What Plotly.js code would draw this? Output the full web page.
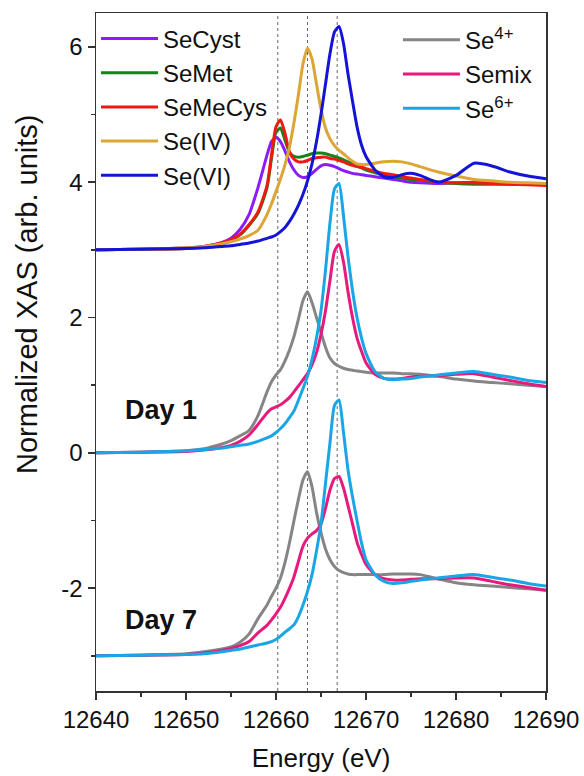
<!DOCTYPE html>
<html>
<head>
<meta charset="utf-8">
<script src="https://cdn.plot.ly/plotly-3.0.1.min.js"></script>
<style>
  html, body { margin: 0; padding: 0; background: #ffffff; }
  #chart { width: 584px; height: 776px; }
</style>
</head>
<body>
<div id="chart"></div>
<script>
// Energy grid (eV)
const energy = [12640, 12645, 12650, 12652, 12654, 12655, 12656, 12657, 12658, 12659,
  12659.5, 12660, 12660.5, 12661, 12661.5, 12662, 12662.5, 12663, 12663.5, 12664,
  12664.5, 12665, 12665.5, 12666, 12666.5, 12667, 12667.5, 12668, 12668.5, 12669,
  12669.5, 12670, 12671, 12672, 12673, 12674, 12675, 12676, 12678, 12680,
  12682, 12684, 12686, 12688, 12690];

// Reference standards (plotted, offset group)
const seCyst = [3.00, 3.01, 3.03, 3.05, 3.11, 3.17, 3.30, 3.52, 3.92, 4.40,
  4.60, 4.66, 4.60, 4.46, 4.30, 4.18, 4.10, 4.07, 4.08, 4.13,
  4.19, 4.24, 4.26, 4.25, 4.23, 4.20, 4.17, 4.15, 4.13, 4.12,
  4.11, 4.10, 4.08, 4.06, 4.04, 4.02, 4.00, 3.99, 3.98, 3.99,
  4.00, 3.99, 3.98, 3.97, 3.96];
const seMet = [3.00, 3.01, 3.02, 3.04, 3.09, 3.14, 3.22, 3.36, 3.54, 3.92,
  4.35, 4.74, 4.80, 4.62, 4.44, 4.38, 4.37, 4.38, 4.40, 4.42,
  4.43, 4.43, 4.42, 4.40, 4.38, 4.36, 4.33, 4.30, 4.27, 4.24,
  4.21, 4.18, 4.14, 4.10, 4.08, 4.06, 4.04, 4.03, 4.00, 3.98,
  3.97, 3.97, 3.97, 3.97, 3.97];
const seMeCys = [3.00, 3.01, 3.02, 3.05, 3.10, 3.15, 3.23, 3.37, 3.56, 3.95,
  4.40, 4.82, 4.92, 4.72, 4.44, 4.34, 4.30, 4.30, 4.32, 4.35,
  4.36, 4.37, 4.37, 4.35, 4.34, 4.32, 4.30, 4.27, 4.25, 4.23,
  4.22, 4.20, 4.16, 4.13, 4.11, 4.08, 4.06, 4.04, 4.00, 3.99,
  3.99, 3.98, 3.97, 3.96, 3.95];
const seIV = [3.00, 3.01, 3.03, 3.05, 3.09, 3.12, 3.16, 3.21, 3.29, 3.52,
  3.68, 3.86, 4.05, 4.26, 4.52, 4.88, 5.30, 5.75, 5.98, 5.82,
  5.45, 5.08, 4.80, 4.64, 4.54, 4.47, 4.42, 4.36, 4.31, 4.27,
  4.26, 4.26, 4.28, 4.30, 4.31, 4.30, 4.27, 4.23, 4.15, 4.09,
  4.04, 4.02, 4.00, 3.99, 3.98];
const seVI = [3.00, 3.01, 3.02, 3.03, 3.05, 3.06, 3.08, 3.10, 3.13, 3.17,
  3.19, 3.22, 3.27, 3.33, 3.42, 3.53, 3.66, 3.82, 4.02, 4.27,
  4.60, 5.00, 5.45, 5.90, 6.22, 6.30, 6.05, 5.60, 5.20, 4.82,
  4.55, 4.38, 4.18, 4.08, 4.07, 4.11, 4.13, 4.10, 4.00, 4.10,
  4.28, 4.24, 4.15, 4.09, 4.05];

// Day 1 samples
const d1Se4 = [0.00, 0.01, 0.03, 0.06, 0.13, 0.18, 0.25, 0.33, 0.55, 0.90,
  1.05, 1.15, 1.23, 1.36, 1.52, 1.72, 1.98, 2.25, 2.38, 2.22,
  2.00, 1.78, 1.56, 1.40, 1.32, 1.28, 1.25, 1.23, 1.22, 1.21,
  1.20, 1.19, 1.18, 1.18, 1.18, 1.17, 1.17, 1.16, 1.13, 1.09,
  1.06, 1.04, 1.02, 1.00, 0.98];
const d1Mix = [0.00, 0.01, 0.02, 0.04, 0.08, 0.11, 0.17, 0.26, 0.42, 0.59,
  0.65, 0.68, 0.71, 0.76, 0.82, 0.90, 0.99, 1.08, 1.17, 1.30,
  1.48, 1.75, 2.10, 2.55, 2.98, 3.08, 2.82, 2.38, 2.00, 1.70,
  1.50, 1.33, 1.16, 1.10, 1.09, 1.10, 1.12, 1.13, 1.14, 1.16,
  1.17, 1.12, 1.07, 1.02, 0.98];
const d1Se6 = [0.00, 0.01, 0.03, 0.05, 0.07, 0.09, 0.11, 0.13, 0.17, 0.22,
  0.25, 0.30, 0.36, 0.43, 0.52, 0.62, 0.78, 0.95, 1.13, 1.38,
  1.70, 2.10, 2.70, 3.40, 3.90, 3.98, 3.50, 2.90, 2.40, 2.00,
  1.70, 1.47, 1.20, 1.10, 1.08, 1.09, 1.10, 1.12, 1.15, 1.18,
  1.20, 1.16, 1.12, 1.07, 1.04];

// Day 7 samples
const d7Se4 = [-3.00, -2.99, -2.97, -2.94, -2.90, -2.87, -2.80, -2.68, -2.45, -2.25,
  -2.12, -2.00, -1.85, -1.62, -1.33, -1.00, -0.68, -0.40, -0.28, -0.50,
  -0.88, -1.18, -1.42, -1.58, -1.68, -1.74, -1.77, -1.79, -1.80, -1.80,
  -1.80, -1.80, -1.80, -1.80, -1.79, -1.79, -1.79, -1.80, -1.86, -1.92,
  -1.95, -1.97, -1.99, -2.01, -2.03];
const d7Mix = [-3.00, -2.99, -2.98, -2.96, -2.92, -2.89, -2.85, -2.79, -2.66, -2.55,
  -2.47, -2.38, -2.28, -2.15, -2.00, -1.83, -1.60, -1.38, -1.26, -1.20,
  -1.15, -1.05, -0.82, -0.55, -0.38, -0.35, -0.52, -0.78, -1.05, -1.32,
  -1.50, -1.65, -1.80, -1.86, -1.88, -1.88, -1.87, -1.86, -1.86, -1.85,
  -1.85, -1.90, -1.95, -1.99, -2.03];
const d7Se6 = [-3.00, -2.99, -2.98, -2.97, -2.94, -2.92, -2.90, -2.87, -2.84, -2.81,
  -2.79, -2.76, -2.71, -2.65, -2.60, -2.54, -2.42, -2.25, -2.05, -1.80,
  -1.45, -1.05, -0.45, 0.15, 0.70, 0.78, 0.30, -0.25, -0.65, -1.00,
  -1.33, -1.58, -1.80, -1.90, -1.93, -1.92, -1.90, -1.88, -1.85, -1.82,
  -1.80, -1.84, -1.88, -1.93, -1.97];

// Reference energies (dotted guides)
const refEnergies = [12660.2, 12663.5, 12666.8];

// Tick labels
const yTickVals = [-2, 0, 2, 4, 6];
const yTickText = ['-2', '0', '2', '4', '6'];
const xTickVals = [12640, 12650, 12660, 12670, 12680, 12690];
const xTickText = ['12640', '12650', '12660', '12670', '12680', '12690'];

// Titles and panel labels
const xTitle = 'Energy (eV)';
const yTitle = 'Normalized XAS (arb. units)';
const dayLabels = ['Day 1', 'Day 7'];
const dayLabelX = [12647.2, 12647.2];
const dayLabelY = [0.63, -2.47];

const FONT = 'Liberation Sans, Arial, sans-serif';

function tr(y, name, color, legend, show) {
  return {
    x: energy, y: y, name: name, type: 'scatter', mode: 'lines',
    line: {color: color, width: 3, shape: 'spline', smoothing: 0.6},
    legend: legend, showlegend: show, hoverinfo: 'skip'
  };
}

const data = [
  tr(seCyst, 'SeCyst', '#8a1cf5', 'legend', true),
  tr(seMet, 'SeMet', '#12851a', 'legend', true),
  tr(seMeCys, 'SeMeCys', '#ee1a12', 'legend', true),
  tr(seIV, 'Se(IV)', '#dca535', 'legend', true),
  tr(seVI, 'Se(VI)', '#1414d8', 'legend', true),
  tr(d1Se4, 'Se<sup>4+</sup>', '#858585', 'legend2', true),
  tr(d1Mix, 'Semix', '#e8197c', 'legend2', true),
  tr(d1Se6, 'Se<sup>6+</sup>', '#1aa5e6', 'legend2', true),
  tr(d7Se4, 'Se<sup>4+</sup>', '#858585', 'legend2', false),
  tr(d7Mix, 'Semix', '#e8197c', 'legend2', false),
  tr(d7Se6, 'Se<sup>6+</sup>', '#1aa5e6', 'legend2', false)
];

const shapes = refEnergies.map(e => ({
  type: 'line', xref: 'x', yref: 'paper', x0: e, x1: e, y0: 0, y1: 1,
  line: {color: '#666', width: 1, dash: 'dot'}, layer: 'below'
}));

const annotations = dayLabels.map((t, i) => ({
  x: dayLabelX[i], y: dayLabelY[i], xref: 'x', yref: 'y', text: '<b>' + t + '</b>',
  showarrow: false, font: {family: FONT, size: 27, color: '#111'}
}));
annotations.push({
  x: -0.152, y: 0.585, xref: 'paper', yref: 'paper', text: yTitle, textangle: -90,
  xanchor: 'center', yanchor: 'middle', showarrow: false,
  font: {family: FONT, size: 29, color: '#111'}
});

const layout = {
  width: 584, height: 776,
  margin: {l: 96, r: 38, t: 13, b: 85},
  paper_bgcolor: '#ffffff', plot_bgcolor: '#ffffff',
  font: {family: FONT, color: '#111', size: 22},
  showlegend: true,
  legend: {x: 0.0, y: 0.995, xanchor: 'left', yanchor: 'top', bgcolor: 'rgba(0,0,0,0)',
    font: {family: FONT, size: 24, color: '#111'}, itemwidth: 57, tracegroupgap: 0},
  legend2: {x: 0.671, y: 0.993, xanchor: 'left', yanchor: 'top', bgcolor: 'rgba(0,0,0,0)',
    font: {family: FONT, size: 24, color: '#111'}, itemwidth: 57, tracegroupgap: 0},
  xaxis: {
    range: [12640, 12690], tickmode: 'array', tickvals: xTickVals, ticktext: xTickText,
    ticks: 'outside', ticklen: 7, tickwidth: 1.5, tickcolor: '#333',
    minor: {tickmode: 'linear', tick0: 12645, dtick: 10, ticks: 'outside', ticklen: 4, tickwidth: 1.5, tickcolor: '#333'},
    showline: true, linecolor: '#333', linewidth: 1.5, mirror: true,
    showgrid: false, zeroline: false,
    tickfont: {family: FONT, size: 24, color: '#111'},
    title: {text: xTitle, font: {family: FONT, size: 26, color: '#111'}, standoff: 16}
  },
  yaxis: {
    range: [-3.52, 6.5], tickmode: 'array', tickvals: yTickVals, ticktext: yTickText,
    ticks: 'outside', ticklen: 7, tickwidth: 1.5, tickcolor: '#333',
    minor: {tickmode: 'linear', tick0: -3, dtick: 2, ticks: 'outside', ticklen: 4, tickwidth: 1.5, tickcolor: '#333'},
    showline: true, linecolor: '#333', linewidth: 1.5, mirror: true,
    showgrid: false, zeroline: false,
    tickfont: {family: FONT, size: 24, color: '#111'}
  },
  shapes: shapes,
  annotations: annotations
};

Plotly.newPlot('chart', data, layout, {displayModeBar: false, staticPlot: true});
</script>
</body>
</html>
